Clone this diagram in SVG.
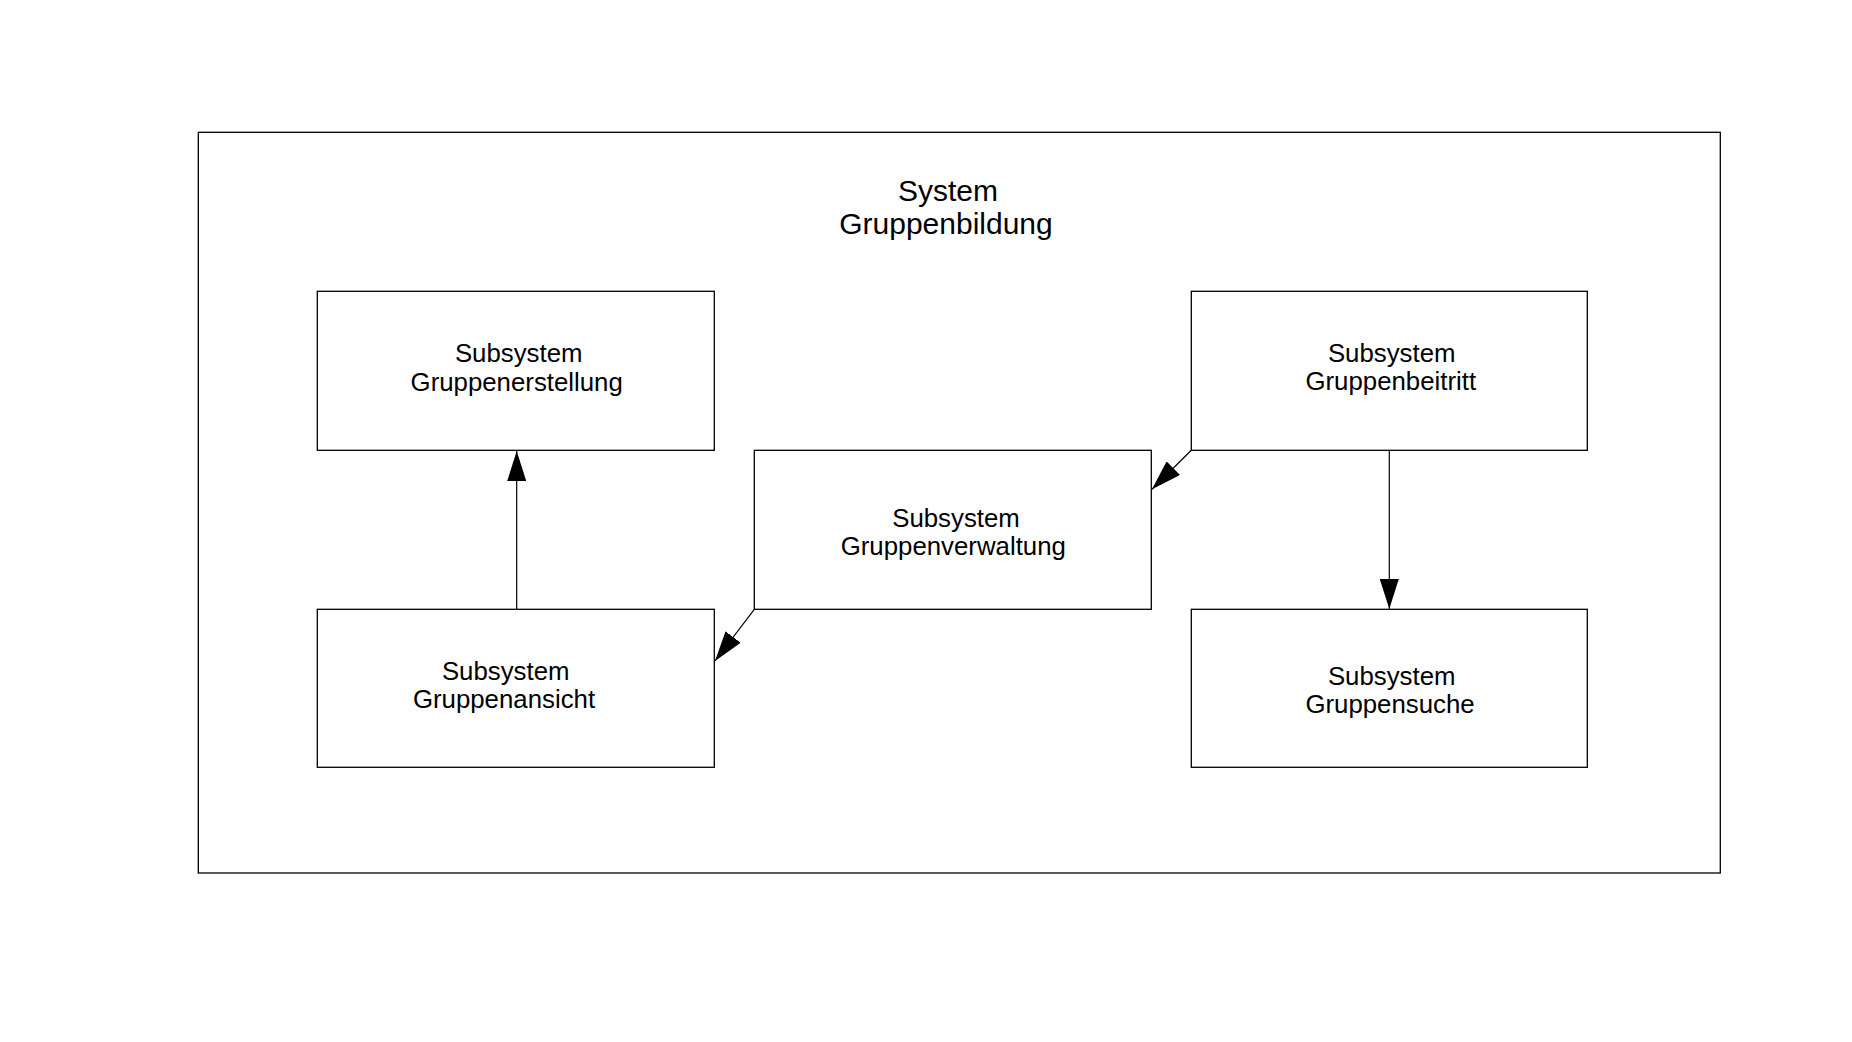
<svg xmlns="http://www.w3.org/2000/svg" width="1852" height="1042" viewBox="0 0 1852 1042">
<style>
  .box { fill: #ffffff; stroke: #000000; stroke-width: 1.3; }
  .lbl { font-family: "Liberation Sans", Arial, sans-serif; font-size: 25.8px; fill: #000000; text-anchor: middle; }
  .title { font-family: "Liberation Sans", Arial, sans-serif; font-size: 30px; fill: #000000; text-anchor: middle; }
  .conn { fill: none; stroke: #000000; stroke-width: 1.2; }
</style>
<defs>
  <marker id="arrow" markerUnits="userSpaceOnUse" viewBox="0 0 30 19" refX="30" refY="9.5" markerWidth="30" markerHeight="19" orient="auto">
    <path d="M0,0 L30,9.5 L0,19 z" fill="#000000"/>
  </marker>
</defs>
<rect width="1852" height="1042" fill="#ffffff"/>
<g id="system">
  <rect class="box" x="198.3" y="132.3" width="1522" height="740.7"/>
  <text class="title" x="948" y="201">System</text>
  <text class="title" x="946" y="234">Gruppenbildung</text>
</g>
<g id="gruppenerstellung">
  <rect class="box" x="317.3" y="291.3" width="397" height="159"/>
  <text class="lbl" x="518.7" y="362.3">Subsystem</text>
  <text class="lbl" x="516.7" y="390.7">Gruppenerstellung</text>
</g>
<g id="gruppenbeitritt">
  <rect class="box" x="1191.3" y="291.3" width="396" height="159"/>
  <text class="lbl" x="1391.7" y="362">Subsystem</text>
  <text class="lbl" x="1390.8" y="390">Gruppenbeitritt</text>
</g>
<g id="gruppenverwaltung">
  <rect class="box" x="754.3" y="450.3" width="397" height="159"/>
  <text class="lbl" x="956" y="527.3">Subsystem</text>
  <text class="lbl" x="953.3" y="555.3">Gruppenverwaltung</text>
</g>
<g id="gruppenansicht">
  <rect class="box" x="317.3" y="609.3" width="397" height="158"/>
  <text class="lbl" x="505.7" y="680">Subsystem</text>
  <text class="lbl" x="504" y="707.7">Gruppenansicht</text>
</g>
<g id="gruppensuche">
  <rect class="box" x="1191.3" y="609.3" width="396" height="158"/>
  <text class="lbl" x="1391.7" y="685.3">Subsystem</text>
  <text class="lbl" x="1390" y="713.3">Gruppensuche</text>
</g>
<g id="connectors">
  <line class="conn" x1="516.7" y1="609.3" x2="516.7" y2="451" marker-end="url(#arrow)"/>
  <line class="conn" x1="1389.3" y1="450.3" x2="1389.3" y2="609" marker-end="url(#arrow)"/>
  <line class="conn" x1="1191.3" y1="450.3" x2="1152" y2="489.3" marker-end="url(#arrow)"/>
  <line class="conn" x1="754.3" y1="609.3" x2="715" y2="661" marker-end="url(#arrow)"/>
</g>
</svg>
